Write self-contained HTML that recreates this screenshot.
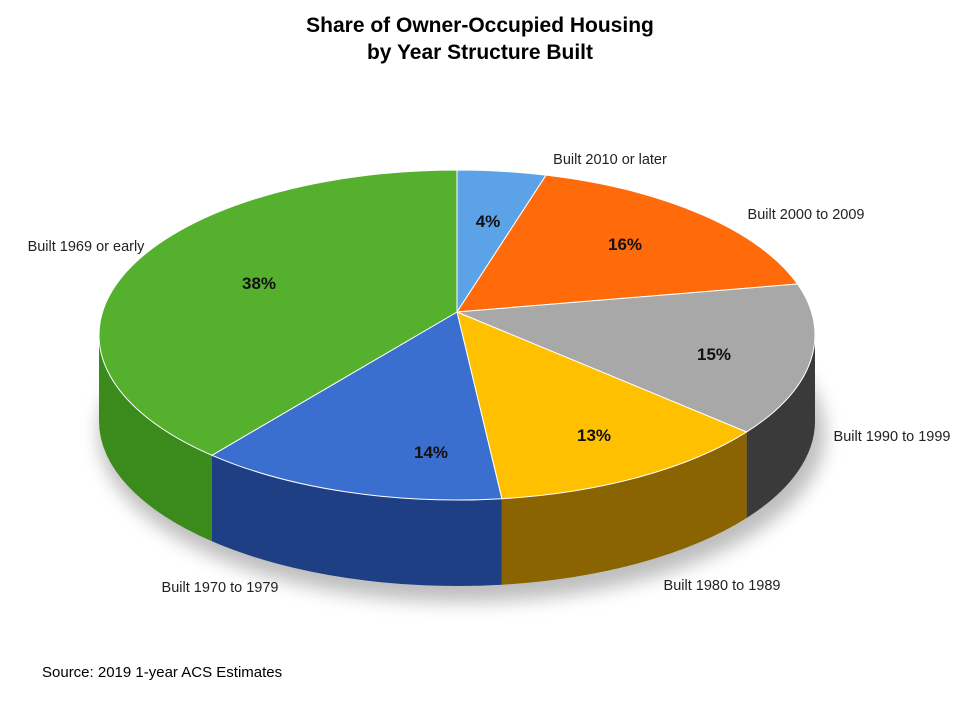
<!DOCTYPE html>
<html><head><meta charset="utf-8">
<style>
body{margin:0;background:#fff;}
svg{display:block;font-family:"Liberation Sans",Arial,sans-serif;}
</style></head>
<body>
<svg id="chart" width="960" height="720" viewBox="0 0 960 720">
<defs>
<filter id="blur" x="-20%" y="-50%" width="140%" height="200%"><feGaussianBlur stdDeviation="9"/></filter>
</defs>
<text x="480" y="32" text-anchor="middle" font-size="21" font-weight="bold" fill="#000">Share of Owner-Occupied Housing</text>
<text x="480" y="59" text-anchor="middle" font-size="21" font-weight="bold" fill="#000">by Year Structure Built</text>
<g id="pie"></g>
<text x="42" y="677" font-size="15" fill="#000">Source: 2019 1-year ACS Estimates</text>
</svg>
<script>
const categories = ["Built 2010 or later","Built 2000 to 2009","Built 1990 to 1999","Built 1980 to 1989","Built 1970 to 1979","Built 1969 or early"];
const values = [4,16,15,13,14,38];
const pctLabels = ["4%","16%","15%","13%","14%","38%"];
const topColors = ["#5ba3e6","#ff6b0a","#a8a8a8","#ffc000","#3a6fd0","#55b02e"];
const sideColors = ["#2f6fae","#b04a00","#3a3a3a","#8a6400","#1f3f85","#3a8a1c"];

// layout only (label anchor positions, not data)
const outerLabelPos = [[610,164],[806,219],[892,441],[722,590],[220,592],[86,251]];
const innerLabelPos = [[488,227],[625,250],[714,360],[594,441],[431,458],[259,289]];

const NS="http://www.w3.org/2000/svg";
const cx=457, cy=335, ax=457, ay=312, rx=358, ry=165, depth=86;
const g=document.getElementById('pie');
function pt(a){const r=a*Math.PI/180;return [cx+rx*Math.sin(r), cy-ry*Math.cos(r)];}
function mk(tag,attrs){const e=document.createElementNS(NS,tag);for(const k in attrs)e.setAttribute(k,attrs[k]);g.appendChild(e);return e;}
const total=values.reduce((a,b)=>a+b,0);
const angles=[];let acc=0;
values.forEach(v=>{const a0=acc/total*360;acc+=v;angles.push([a0,acc/total*360]);});

const sh=mk('ellipse',{cx:cx+5,cy:cy+depth+12,rx:rx+5,ry:ry+4,fill:'#888',opacity:0.55,filter:'url(#blur)'});



angles.forEach((a,i)=>{
  const s=Math.max(a[0],90), e=Math.min(a[1],270);
  if(e<=s) return;
  const p0=pt(s),p1=pt(e);
  const large=(e-s)>180?1:0;
  const d=`M${p0[0]},${p0[1]} A${rx},${ry} 0 ${large} 1 ${p1[0]},${p1[1]} L${p1[0]},${p1[1]+depth} A${rx},${ry} 0 ${large} 0 ${p0[0]},${p0[1]+depth} Z`;
  const el=mk('path',{d:d,fill:sideColors[i]});
  
  
});
angles.forEach((a,i)=>{
  const p0=pt(a[0]),p1=pt(a[1]);
  const large=(a[1]-a[0])>180?1:0;
  const d=`M${ax},${ay} L${p0[0]},${p0[1]} A${rx},${ry} 0 ${large} 1 ${p1[0]},${p1[1]} Z`;
  const el=mk('path',{d:d,fill:topColors[i],stroke:'#fff','stroke-width':1});
  
  
});
angles.forEach((a,i)=>{
  const p=innerLabelPos[i];
  const t=mk('text',{x:p[0],y:p[1],'text-anchor':'middle','font-size':17,'font-weight':'bold',fill:'#111'});
  t.textContent=pctLabels[i];
  
  
  const q=outerLabelPos[i];
  const o=mk('text',{x:q[0],y:q[1],'text-anchor':'middle','font-size':14.5,fill:'#222'});
  o.textContent=categories[i];
  
  
});
</script>
</body></html>
